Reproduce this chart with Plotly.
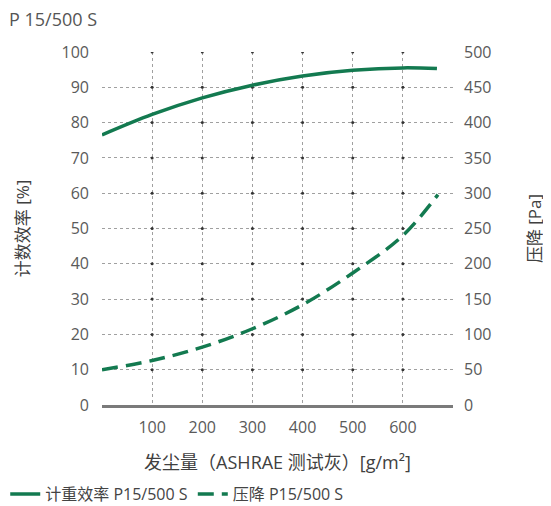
import plotly.graph_objects as go

# Data
dust_load = [0, 100, 200, 300, 400, 500, 600, 668]            # g/m²
efficiency = [76.5, 82.3, 87.0, 90.6, 93.2, 94.8, 95.5, 95.3]  # %
dust_load_dp = [0, 100, 200, 300, 400, 500, 600, 670]
pressure_drop = [50, 63, 82, 108, 142, 187, 240, 298]          # Pa

x_ticks = [100, 200, 300, 400, 500, 600]
y_left_ticks = [0, 10, 20, 30, 40, 50, 60, 70, 80, 90, 100]
y_right_ticks = [0, 50, 100, 150, 200, 250, 300, 350, 400, 450, 500]

title_text = "P 15/500 S"
x_title = "发尘量（ASHRAE 测试灰）[g/m²]"
y_left_title = "计数效率 [%]"
y_right_title = "压降 [Pa]"
name_eff = "计重效率 P15/500 S"
name_dp = "压降 P15/500 S"

GREEN = "#137a50"
FONT = "Open Sans, Noto Sans CJK SC, sans-serif"
TICK_COLOR = "#5a5a5a"

W, H = 543, 498   # page body has an 8px default margin
ML, MR, MT, MB = 93.5, 98, 44, 101

fig = go.Figure()

# grid intersection dots
gx, gy = [], []
for xv in x_ticks:
    for yv in y_left_ticks[1:]:
        gx.append(xv)
        gy.append(yv)
fig.add_trace(go.Scatter(x=gx, y=gy, mode="markers",
                         marker=dict(size=3, color="#333333"),
                         showlegend=False, hoverinfo="skip"))

fig.add_trace(go.Scatter(x=dust_load, y=efficiency, name=name_eff, mode="lines",
                         line=dict(color=GREEN, width=3.5, shape="spline")))
fig.add_trace(go.Scatter(x=dust_load_dp, y=pressure_drop, name=name_dp, mode="lines",
                         yaxis="y2",
                         line=dict(color=GREEN, width=3.5, shape="spline", dash="16px,8px")))

pw = W - ML - MR
ph = H - MT - MB

fig.update_layout(
    width=W, height=H,
    margin=dict(l=ML, r=MR, t=MT, b=MB, autoexpand=False),
    paper_bgcolor="white", plot_bgcolor="white",
    font=dict(family=FONT, size=16, color=TICK_COLOR),
    title=dict(text=title_text, x=1 / W, xanchor="left", y=1 - 12 / H, yanchor="middle",
               font=dict(size=18, color="#555555")),
    xaxis=dict(range=[0, 700], tickvals=x_ticks, showgrid=True, griddash="dot",
               gridcolor="#a0a0a0", gridwidth=1, zeroline=False, automargin=False,
               showline=True, linecolor="#7a7a7a", linewidth=2.5,
               ticks="", ticklabelstandoff=6,
               tickfont=dict(size=16, color=TICK_COLOR),
               title=dict(text=x_title, standoff=20, font=dict(size=18, color="#404040"))),
    yaxis=dict(range=[0, 100], tickvals=y_left_ticks, showgrid=True, griddash="dot",
               gridcolor="#a0a0a0", gridwidth=1, zeroline=False, showline=False,
               ticks="", ticklabelstandoff=12, automargin=False,
               tickfont=dict(size=16, color=TICK_COLOR),
               title=dict(text=y_left_title, standoff=27, font=dict(size=17, color="#404040"))),
    yaxis2=dict(range=[0, 500], tickvals=y_right_ticks, overlaying="y", side="right",
                showgrid=False, zeroline=False, showline=False, ticks="",
                ticklabelstandoff=10, automargin=False,
                tickfont=dict(size=16, color=TICK_COLOR),
                title=dict(text=y_right_title, standoff=38, font=dict(size=17, color="#404040"))),
    legend=dict(orientation="h", x=(-3.4 - ML) / pw, xanchor="left",
                y=-(486 - (H - MB)) / ph, yanchor="middle",
                font=dict(size=16, color="#444444"), itemwidth=30, tracegroupgap=0,
                bgcolor="rgba(0,0,0,0)"),
    showlegend=True,
)

fig.write_html("out.html")
